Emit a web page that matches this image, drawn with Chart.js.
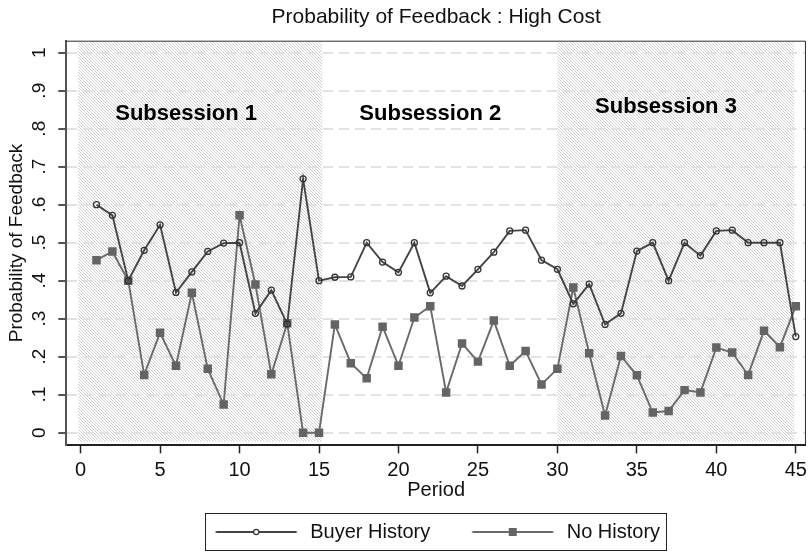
<!DOCTYPE html>
<html>
<head>
<meta charset="utf-8">
<script src="https://cdn.jsdelivr.net/npm/chart.js@4/dist/chart.umd.min.js"></script>
<style>
  html, body { margin: 0; padding: 0; background: #fff; }
  canvas { display: block; }
</style>
</head>
<body>
<canvas id="chart" width="812" height="553"></canvas>
<script>
// Periods 1..45 of the session
const periods = [1,2,3,4,5,6,7,8,9,10,11,12,13,14,15,16,17,18,19,20,21,22,23,24,25,26,27,28,29,30,31,32,33,34,35,36,37,38,39,40,41,42,43,44,45];

// Share of trades with feedback left, by treatment
const buyerHistory = [0.600, 0.572, 0.400, 0.480, 0.547, 0.369, 0.423, 0.477, 0.499, 0.500,
                      0.314, 0.375, 0.286, 0.668, 0.400, 0.409, 0.410, 0.500, 0.449, 0.422,
                      0.500, 0.368, 0.412, 0.386, 0.430, 0.475, 0.531, 0.533, 0.454, 0.430,
                      0.339, 0.391, 0.285, 0.314, 0.478, 0.500, 0.400, 0.500, 0.466, 0.531,
                      0.533, 0.500, 0.500, 0.500, 0.253];
const noHistory = [0.454, 0.477, 0.400, 0.152, 0.263, 0.176, 0.368, 0.168, 0.074, 0.572,
                   0.390, 0.154, 0.288, 0.000, 0.000, 0.285, 0.183, 0.143, 0.279, 0.176,
                   0.303, 0.333, 0.106, 0.235, 0.187, 0.295, 0.176, 0.215, 0.127, 0.168,
                   0.382, 0.209, 0.045, 0.202, 0.151, 0.053, 0.057, 0.112, 0.106, 0.224,
                   0.211, 0.152, 0.268, 0.225, 0.333];

const seriesNames = ['Buyer History', 'No History'];

// Axis ticks
const xTickValues = [0, 5, 10, 15, 20, 25, 30, 35, 40, 45];
const yTickValues = [0, 0.1, 0.2, 0.3, 0.4, 0.5, 0.6, 0.7, 0.8, 0.9, 1];
const yTickLabels = ['0', '.1', '.2', '.3', '.4', '.5', '.6', '.7', '.8', '.9', '1'];

// Subsession blocks (period ranges that are shaded) and their captions
const shadedSpans = [[-0.15, 15.2], [30.0, 44.9]];
const subsessionLabels = ['Subsession 1', 'Subsession 2', 'Subsession 3'];
const subsessionAnchors = [[6.64, 0.84], [22.0, 0.84], [36.83, 0.857]];

const FONT = "'Liberation Sans', Arial, Helvetica, sans-serif";
Chart.defaults.font.family = FONT;
Chart.defaults.color = '#111';

const BUYER_LINE = '#444444';
const BUYER_MARK = '#333333';
const NOHIST_LINE = '#6a6a6a';
const NOHIST_MARK = '#646464';

// Diagonal hatch used for the shaded subsessions
function makeHatch(ctx) {
  const c = document.createElement('canvas');
  c.width = 3; c.height = 3;
  const g = c.getContext('2d');
  g.fillStyle = '#ffffff';
  g.fillRect(0, 0, 3, 3);
  g.fillStyle = '#cfcfcf';
  for (let i = 0; i < 3; i++) g.fillRect(i, i, 1, 1);
  return ctx.createPattern(c, 'repeat');
}

// Legend key: a short line with the series marker in its middle
function legendKey(lineColor, drawMarker) {
  const c = document.createElement('canvas');
  c.width = 88; c.height = 16;
  const g = c.getContext('2d');
  g.strokeStyle = lineColor;
  g.lineWidth = 1.8;
  g.beginPath();
  g.moveTo(3.5, 8); g.lineTo(84.5, 8);
  g.stroke();
  drawMarker(g, 44, 8);
  return c;
}
const buyerKey = legendKey(BUYER_LINE, (g, x, y) => {
  g.fillStyle = '#fff';
  g.strokeStyle = BUYER_MARK;
  g.lineWidth = 1.3;
  g.beginPath(); g.arc(x, y, 2.6, 0, Math.PI * 2); g.fill(); g.stroke();
});
const noHistKey = legendKey(NOHIST_LINE, (g, x, y) => {
  g.fillStyle = NOHIST_MARK;
  g.fillRect(x - 4, y - 4, 8, 8);
});

const panelPlugin = {
  id: 'panel',
  beforeDraw(chart) {
    const {ctx, scales: {x, y}} = chart;
    ctx.save();
    ctx.fillStyle = '#fff';
    ctx.fillRect(0, 0, chart.width, chart.height);
    ctx.fillStyle = makeHatch(ctx);
    const top = y.getPixelForValue(1.027);
    const bottom = y.getPixelForValue(-0.024);
    shadedSpans.forEach(([a, b]) => {
      const l = x.getPixelForValue(a);
      const r = x.getPixelForValue(b);
      ctx.fillRect(l, top, r - l, bottom - top);
    });
    ctx.restore();
  },
  afterDraw(chart) {
    const {ctx, chartArea, scales: {x, y}} = chart;
    ctx.save();
    // top and right edges of the plot frame
    ctx.strokeStyle = '#2a2a2a';
    ctx.lineWidth = 1;
    ctx.beginPath();
    ctx.moveTo(chartArea.left, chartArea.top + 0.5);
    ctx.lineTo(chartArea.right - 0.5, chartArea.top + 0.5);
    ctx.lineTo(chartArea.right - 0.5, chartArea.bottom);
    ctx.stroke();

    // subsession captions
    ctx.fillStyle = '#000';
    ctx.font = "bold 22px " + FONT;
    ctx.textAlign = 'center';
    ctx.textBaseline = 'middle';
    subsessionLabels.forEach((t, i) => {
      const [px, py] = subsessionAnchors[i];
      ctx.fillText(t, x.getPixelForValue(px), y.getPixelForValue(py));
    });

    // box round the legend
    const hb = chart.legend.legendHitBoxes;
    if (hb && hb.length) {
      const l = hb[0].left - 7;
      const r = hb[hb.length - 1].left + hb[hb.length - 1].width + 6;
      const t = hb[0].top - 9;
      const b = hb[0].top + hb[0].height + 8;
      ctx.strokeStyle = '#222';
      ctx.lineWidth = 1;
      ctx.strokeRect(Math.round(l) + 0.5, Math.round(t) + 0.5, Math.round(r - l), Math.round(b - t));
    }
    ctx.restore();
  }
};

const toPoints = vals => periods.map((p, i) => ({x: p, y: vals[i]}));

new Chart(document.getElementById('chart').getContext('2d'), {
  type: 'line',
  data: {
    datasets: [
      {
        label: seriesNames[0],
        data: toPoints(buyerHistory),
        borderColor: BUYER_LINE,
        borderWidth: 1.9,
        tension: 0,
        pointStyle: 'circle',
        pointRadius: 3,
        pointBorderWidth: 1.3,
        pointBorderColor: BUYER_MARK,
        pointBackgroundColor: 'rgba(255,255,255,0)',
        legendKey: buyerKey
      },
      {
        label: seriesNames[1],
        data: toPoints(noHistory),
        borderColor: NOHIST_LINE,
        borderWidth: 1.9,
        tension: 0,
        pointStyle: 'rect',
        pointRadius: 6,
        pointBorderWidth: 0,
        pointBackgroundColor: NOHIST_MARK,
        pointBorderColor: NOHIST_MARK,
        legendKey: noHistKey
      }
    ]
  },
  options: {
    responsive: false,
    animation: false,
    events: [],
    layout: { padding: { top: 0, left: 0, right: 1, bottom: 1 } },
    plugins: {
      tooltip: { enabled: false },
      title: {
        display: true,
        text: 'Probability of Feedback : High Cost',
        fullSize: false,
        color: '#111',
        font: { size: 21, weight: 'normal' },
        padding: { top: 4.4, bottom: 11.1 }
      },
      legend: {
        position: 'bottom',
        fullSize: false,
        labels: {
          usePointStyle: true,
          pointStyleWidth: 88,
          padding: 38.5,
          color: '#111',
          font: { size: 20 },
          generateLabels: chart => chart.data.datasets.map((ds, i) => ({
            text: ds.label,
            pointStyle: ds.legendKey,
            datasetIndex: i,
            hidden: false,
            lineWidth: 0,
            fillStyle: ds.borderColor,
            strokeStyle: ds.borderColor,
            fontColor: '#111'
          }))
        }
      }
    },
    scales: {
      x: {
        type: 'linear',
        min: -0.9,
        max: 45.64,
        afterBuildTicks: s => { s.ticks = xTickValues.map(v => ({ value: v })); },
        afterFit: s => { s.height = 38.2; },
        grid: { drawOnChartArea: false, drawTicks: true, tickLength: 8, tickColor: '#222', tickWidth: 1.5 },
        border: { color: '#222', width: 2 },
        ticks: {
          autoSkip: false, minRotation: 0, maxRotation: 0, padding: 5,
          color: '#111', font: { size: 20 },
          callback: v => String(v)
        },
        title: {
          display: true, text: 'Period', color: '#111',
          font: { size: 20 }, padding: { top: 0, bottom: -18.5 }
        }
      },
      y: {
        type: 'linear',
        min: -0.0332,
        max: 1.0316,
        afterBuildTicks: s => { s.ticks = yTickValues.map(v => ({ value: v })); },
        afterFit: s => { s.width = 66.3; },
        grid: {
          color: '#e2e2e2', lineWidth: 2,
          tickColor: '#555', tickWidth: 2, tickLength: 8, tickBorderDash: []
        },
        border: { color: '#555', width: 2, dash: [10, 6] },
        ticks: {
          autoSkip: false, minRotation: 90, maxRotation: 90, crossAlign: 'center',
          padding: 10.4, color: '#111', font: { size: 19 },
          callback: (v, i) => yTickLabels[i]
        },
        title: {
          display: true, text: 'Probability of Feedback', color: '#111',
          font: { size: 19 }, padding: { top: 5.3, bottom: 0 }
        }
      }
    }
  },
  plugins: [panelPlugin]
});
</script>
</body>
</html>
